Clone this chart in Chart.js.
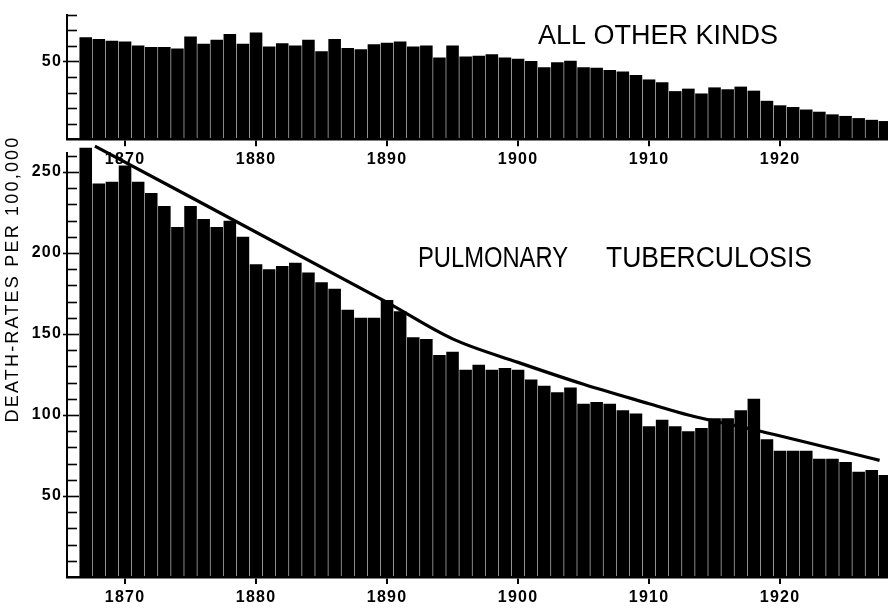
<!DOCTYPE html>
<html>
<head>
<meta charset="utf-8">
<script src="https://cdn.jsdelivr.net/npm/chart.js@4.4.1/dist/chart.umd.min.js"></script>
<style>
  html, body { margin: 0; padding: 0; background: #ffffff; overflow: hidden; }
  #wrap { position: relative; width: 888px; height: 614px; background: #ffffff; }
  #bottomBox { position: absolute; left: 0; top: 0; width: 888px; height: 614px; }
  #topBox { position: absolute; left: 0; top: 0; width: 888px; height: 175px; }
</style>
</head>
<body>
<div id="wrap">
  <div id="bottomBox"><canvas id="tbChart"></canvas></div>
  <div id="topBox"><canvas id="otherChart"></canvas></div>
</div>
<script>
// ---------------- DATA ----------------
const years = [
  1867, 1868, 1869, 1870, 1871, 1872, 1873, 1874, 1875, 1876,
  1877, 1878, 1879, 1880, 1881, 1882, 1883, 1884, 1885, 1886,
  1887, 1888, 1889, 1890, 1891, 1892, 1893, 1894, 1895, 1896,
  1897, 1898, 1899, 1900, 1901, 1902, 1903, 1904, 1905, 1906,
  1907, 1908, 1909, 1910, 1911, 1912, 1913, 1914, 1915, 1916,
  1917, 1918, 1919, 1920, 1921, 1922, 1923, 1924, 1925, 1926,
  1927, 1928
];

// "All other kinds" death-rates per 100,000 (top panel)
const otherKindsRates = [
  65.4, 64.4, 63.3, 62.7, 60.2, 59.2, 59.2, 58.2, 66.0, 61.3,
  63.8, 67.5, 61.3, 68.5, 59.6, 61.7, 60.2, 63.8, 56.5, 64.4,
  58.6, 57.7, 60.9, 61.9, 62.7, 59.6, 60.2, 52.5, 60.2, 53.1,
  53.6, 54.5, 52.5, 51.6, 50.2, 46.3, 49.5, 50.4, 46.3, 45.9,
  44.5, 43.5, 41.2, 38.4, 36.6, 30.9, 32.5, 29.4, 33.3, 32.1,
  33.8, 31.2, 24.7, 21.8, 20.7, 19.1, 17.7, 16.0, 15.0, 13.6,
  12.5, 11.7
];

// Pulmonary tuberculosis death-rates per 100,000 (bottom panel)
const tuberculosisRates = [
  265, 243, 244, 254, 244, 237, 229, 216, 229, 221,
  216, 220, 210, 193, 190, 192, 194, 188, 182, 178,
  165, 160, 160, 171, 164, 148, 147, 137, 139, 128,
  131, 128, 129, 128, 122, 118, 114, 117, 107, 108,
  107, 103, 101, 93, 97, 93, 90, 92, 98, 98,
  103, 110, 85, 78, 78, 78, 73, 73, 71, 65,
  66, 63
];

// Smoothed trend line drawn over the tuberculosis bars
const trendYears = [1867.7, 1890, 1895, 1900, 1905, 1910, 1913, 1918.5, 1927.6];
const trendRates = [266, 169.5, 147, 132.5, 119, 107, 100, 90, 72];

// Tick values / labels
const xTickYears = [1870, 1880, 1890, 1900, 1910, 1920];
const otherTickValues = [10, 20, 30, 40, 50, 60, 70, 80];
const otherTickLabels = [50];
const tbTickValues = [10, 20, 30, 40, 50, 60, 70, 80, 90, 100, 110, 120, 130, 140, 150,
                      160, 170, 180, 190, 200, 210, 220, 230, 240, 250, 260];
const tbTickLabels = [50, 100, 150, 200, 250];

// Texts
const otherTitle = 'ALL OTHER KINDS';
const tbTitleWords = ['PULMONARY', 'TUBERCULOSIS'];
const yAxisTitle = 'DEATH-RATES PER 100,000';

// ---------------- STYLE / LAYOUT ----------------
const FONT = "'Liberation Sans', Arial, Helvetica, sans-serif";
const INK = '#000000';
const X_MIN = 1865.57, X_MAX = 1928.24;
const AXIS_LEFT = 67;

Chart.defaults.font.family = FONT;
Chart.defaults.color = INK;
Chart.defaults.animation = false;

const spacingPlugin = {
  id: 'spacing',
  beforeDraw(chart) { chart.ctx.letterSpacing = '1.2px'; }
};

const innerTicksPlugin = {
  id: 'innerTicks',
  afterDatasetsDraw(chart, args, opts) {
    const y = chart.scales.y;
    const ctx = chart.ctx;
    const left = chart.chartArea.left;
    ctx.save();
    ctx.strokeStyle = INK;
    ctx.lineWidth = 1.6;
    y.ticks.forEach(t => {
      const py = Math.round(y.getPixelForValue(t.value)) + 0.5;
      const major = opts.majors.includes(t.value);
      ctx.beginPath();
      ctx.moveTo(left - (major ? 4 : 0), py);
      ctx.lineTo(left + (major ? 12 : 10), py);
      ctx.stroke();
    });
    ctx.restore();
  }
};

function drawFitted(ctx, text, cx, cy, targetWidth, size) {
  ctx.save();
  ctx.letterSpacing = '0px';
  ctx.font = 'normal ' + size + 'px ' + FONT;
  const w = ctx.measureText(text).width;
  ctx.translate(cx, cy);
  ctx.scale(targetWidth / w, 1);
  ctx.textAlign = 'center';
  ctx.textBaseline = 'middle';
  ctx.fillStyle = INK;
  ctx.fillText(text, 0, 0);
  ctx.restore();
}

const panelTextPlugin = {
  id: 'panelText',
  afterDraw(chart, args, opts) {
    const ctx = chart.ctx;
    opts.items.forEach(it => drawFitted(ctx, it.text, it.x, it.y, it.w, it.size));
    if (opts.yTitle) {
      ctx.save();
      ctx.letterSpacing = '2.2px';
      ctx.font = 'normal 18px ' + FONT;
      ctx.fillStyle = INK;
      ctx.translate(opts.yTitle.x, opts.yTitle.y);
      ctx.rotate(-Math.PI / 2);
      ctx.textAlign = 'center';
      ctx.textBaseline = 'middle';
      ctx.fillText(opts.yTitle.text, 0, 0);
      ctx.restore();
    }
  }
};

function xScale(labelPadding, axisHeight) {
  return {
    type: 'linear',
    min: X_MIN,
    max: X_MAX,
    offset: false,
    afterBuildTicks: s => { s.ticks = xTickYears.map(v => ({ value: v })); },
    afterFit: s => { s.height = axisHeight; },
    ticks: {
      callback: v => String(v),
      font: { size: 16, weight: 'bold' },
      color: INK,
      padding: labelPadding,
      maxRotation: 0,
      autoSkip: false
    },
    grid: { display: true, drawOnChartArea: false, drawTicks: true, tickLength: 7, color: INK, lineWidth: 2, offset: false },
    border: { display: true, color: INK, width: 2.5 }
  };
}

function yScale(max, tickValues, tickLabels) {
  return {
    type: 'linear',
    min: 0,
    max: max,
    afterBuildTicks: s => { s.ticks = tickValues.map(v => ({ value: v })); },
    afterFit: s => { s.width = AXIS_LEFT; },
    ticks: {
      callback: v => tickLabels.includes(v) ? String(v) : '',
      font: { size: 16, weight: 'bold' },
      color: INK,
      padding: 5,
      autoSkip: false
    },
    grid: { display: true, drawOnChartArea: false, drawTicks: false, color: INK },
    border: { display: true, color: INK, width: 2 }
  };
}

// ---------------- BOTTOM: PULMONARY TUBERCULOSIS ----------------
new Chart(document.getElementById('tbChart'), {
  type: 'bar',
  data: {
    datasets: [
      {
        type: 'bar',
        label: 'Pulmonary tuberculosis',
        data: years.map((yr, i) => ({ x: yr, y: tuberculosisRates[i] })),
        backgroundColor: INK,
        borderWidth: 0,
        barPercentage: 0.96,
        categoryPercentage: 1.0,
        clip: false,
        order: 0
      },
      {
        type: 'line',
        label: 'Trend',
        data: trendYears.map((yr, i) => ({ x: yr, y: trendRates[i] })),
        borderColor: INK,
        borderWidth: 3.2,
        pointRadius: 0,
        fill: false,
        cubicInterpolationMode: 'monotone',
        clip: false,
        order: 1
      }
    ]
  },
  options: {
    responsive: true,
    maintainAspectRatio: false,
    animation: false,
    layout: { padding: { top: 152.6, left: 0, right: 0, bottom: 0 } },
    plugins: {
      legend: { display: false },
      tooltip: { enabled: false },
      innerTicks: { majors: tbTickLabels },
      panelText: {
        items: [
          { text: tbTitleWords[0], x: 493, y: 259, w: 150, size: 29 },
          { text: tbTitleWords[1], x: 709, y: 259, w: 206, size: 29 }
        ],
        yTitle: { text: yAxisTitle, x: 13, y: 279 }
      }
    },
    scales: {
      x: xScale(4, 37),
      y: yScale(262, tbTickValues, tbTickLabels)
    }
  },
  plugins: [spacingPlugin, innerTicksPlugin, panelTextPlugin]
});

// ---------------- TOP: ALL OTHER KINDS ----------------
new Chart(document.getElementById('otherChart'), {
  type: 'bar',
  data: {
    datasets: [
      {
        type: 'bar',
        label: 'All other kinds',
        data: years.map((yr, i) => ({ x: yr, y: otherKindsRates[i] })),
        backgroundColor: INK,
        borderWidth: 0,
        barPercentage: 0.96,
        categoryPercentage: 1.0,
        clip: false
      }
    ]
  },
  options: {
    responsive: true,
    maintainAspectRatio: false,
    animation: false,
    layout: { padding: { top: 9.7, left: 0, right: 0, bottom: 0 } },
    plugins: {
      legend: { display: false },
      tooltip: { enabled: false },
      innerTicks: { majors: otherTickLabels },
      panelText: {
        items: [
          { text: otherTitle, x: 658, y: 37, w: 240, size: 27 }
        ]
      }
    },
    scales: {
      x: xScale(4, 35.7),
      y: yScale(80, otherTickValues, otherTickLabels)
    }
  },
  plugins: [spacingPlugin, innerTicksPlugin, panelTextPlugin]
});
</script>
</body>
</html>
